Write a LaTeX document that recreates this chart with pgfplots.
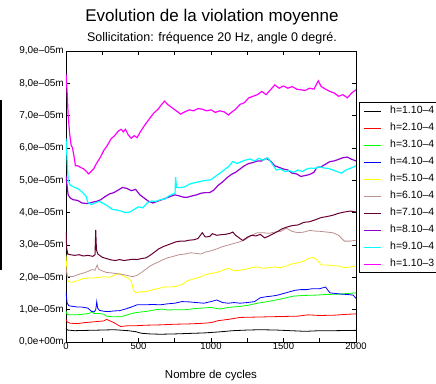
\documentclass[border=0pt]{standalone}
\usepackage{pgfplots}
\pgfplotsset{compat=1.18}
\usepackage{fontspec}
\setmainfont{Liberation Sans}
\definecolor{cMaroon}{HTML}{660033}
\definecolor{cRosy}{HTML}{BC8F8F}
\definecolor{cViolet}{HTML}{9400D3}
\definecolor{cRed}{HTML}{FF0000}
\definecolor{cGreen}{HTML}{00FF00}
\definecolor{cBlue}{HTML}{0000FF}
\definecolor{cYellow}{HTML}{FFFF00}
\definecolor{cCyan}{HTML}{00FFFF}
\definecolor{cMagenta}{HTML}{FF00FF}
\begin{document}
\begin{tikzpicture}
\useasboundingbox (-66pt,-41pt) rectangle (370pt,342pt);
\begin{axis}[
  at={(0pt,0pt)}, anchor=origin,
  scale only axis, width=290pt, height=291pt,
  xmin=0, xmax=2000, ymin=0, ymax=9,
  axis line style={line width=0.8pt},
  tick style={black, line width=0.6pt},
  tick align=inside, major tick length=4pt, minor tick length=4pt,
  xtick={0,500,1000,1500,2000},
  minor xtick={250,750,1250,1750},
  ytick={0,1,2,3,4,5,6,7,8,9},
  yticklabels={{0,0e+00m},{1,0e--05m},{2,0e--05m},{3,0e--05m},{4,0e--05m},{5,0e--05m},{6,0e--05m},{7,0e--05m},{8,0e--05m},{9,0e--05m}},
  /pgf/number format/assume math mode=true,
  /pgf/number format/1000 sep={},
  xticklabel style={font=\fontsize{9.5}{11}\selectfont, inner sep=1pt},
  yticklabel style={font=\fontsize{10}{12}\selectfont, inner sep=1pt, xshift=-1pt},
  xlabel={Nombre de cycles},
  xlabel style={font=\fontsize{11.5}{13}\selectfont, at={(rel axis cs:0.5,0)}, anchor=center, yshift=-34pt},
  legend cell align=left,
  legend style={at={(rel axis cs:1.0103,0.825)}, anchor=north west, draw=black, line width=0.8pt,
    font=\fontsize{10.5}{12}\selectfont, inner xsep=4pt, inner ysep=4pt, row sep=7.5pt,
    nodes={inner sep=0pt, text height=7.5pt, text depth=2pt},
    /tikz/every odd column/.append style={column sep=9pt},
    /tikz/every even column/.append style={column sep=20pt}},
  legend image code/.code={\draw[#1, line width=0.8pt] (0pt,0pt) -- (17pt,0pt);},
  every axis plot/.append style={line width=0.8pt},
]
% h=1.10-4 black
\addplot[black] coordinates {(0,0.42)(10,0.37)(60,0.35)(150,0.36)(250,0.37)(330,0.38)(430,0.35)(480,0.32)(520,0.27)(580,0.25)(650,0.24)(750,0.25)(880,0.27)(950,0.28)(1050,0.31)(1150,0.35)(1250,0.37)(1340,0.38)(1450,0.37)(1550,0.35)(1650,0.33)(1750,0.35)(1850,0.35)(2000,0.36)};
\addlegendentry{h=1.10--4}
% red
\addplot[cRed] coordinates {(0,0.7)(8,0.62)(30,0.58)(80,0.57)(130,0.6)(180,0.62)(230,0.64)(260,0.65)(280,0.7)(300,0.66)(330,0.6)(360,0.52)(378,0.48)(420,0.5)(470,0.5)(550,0.52)(650,0.53)(750,0.55)(850,0.56)(950,0.58)(1000,0.6)(1050,0.66)(1120,0.7)(1200,0.76)(1300,0.77)(1400,0.78)(1500,0.79)(1600,0.8)(1670,0.84)(1750,0.82)(1850,0.83)(1950,0.86)(2000,0.87)};
\addlegendentry{h=2.10--4}
% green
\addplot[cGreen] coordinates {(0,0.95)(8,0.85)(30,0.84)(60,0.84)(100,0.85)(140,0.87)(170,0.9)(180,0.95)(190,0.88)(230,0.88)(260,0.86)(280,0.8)(320,0.78)(380,0.78)(430,0.85)(470,0.9)(520,0.93)(560,0.95)(620,1.0)(660,1.02)(700,0.99)(760,1.0)(820,1.0)(880,1.03)(940,1.05)(1000,1.07)(1060,1.02)(1120,1.07)(1200,1.1)(1260,1.14)(1320,1.2)(1390,1.25)(1450,1.3)(1510,1.36)(1570,1.42)(1640,1.44)(1720,1.45)(1800,1.47)(1880,1.48)(1940,1.5)(2000,1.52)};
\addlegendentry{h=3.10--4}
% blue
\addplot[cBlue] coordinates {(0,1.55)(8,1.2)(20,1.12)(50,1.1)(80,1.08)(110,1.08)(150,1.05)(175,0.95)(195,0.93)(205,1.0)(212,1.25)(218,1.05)(230,0.98)(260,0.95)(290,0.94)(330,0.96)(370,0.97)(410,1.02)(450,1.08)(490,1.15)(540,1.15)(600,1.16)(650,1.15)(700,1.18)(750,1.2)(800,1.25)(850,1.24)(900,1.22)(950,1.2)(1000,1.25)(1040,1.3)(1080,1.22)(1120,1.2)(1160,1.22)(1200,1.2)(1250,1.22)(1300,1.25)(1340,1.37)(1380,1.4)(1420,1.42)(1460,1.45)(1500,1.5)(1540,1.55)(1580,1.6)(1620,1.62)(1660,1.62)(1700,1.65)(1750,1.65)(1790,1.7)(1820,1.52)(1860,1.5)(1900,1.48)(1940,1.47)(1980,1.45)(2000,1.35)};
\addlegendentry{h=4.10--4}
% yellow
\addplot[cYellow] coordinates {(0,2.7)(5,2.3)(12,1.9)(25,1.85)(50,1.85)(80,1.9)(110,1.95)(150,1.98)(190,1.98)(230,2.0)(260,2.02)(300,2.0)(340,2.08)(370,2.12)(400,2.02)(430,1.98)(450,1.88)(465,1.6)(480,1.52)(510,1.55)(540,1.55)(570,1.58)(600,1.62)(640,1.66)(680,1.7)(720,1.7)(760,1.72)(800,1.78)(840,1.9)(880,1.95)(920,2.0)(960,2.08)(1000,2.12)(1040,2.15)(1080,2.22)(1120,2.28)(1160,2.2)(1200,2.22)(1240,2.25)(1280,2.3)(1320,2.32)(1360,2.28)(1400,2.3)(1440,2.32)(1480,2.3)(1520,2.35)(1560,2.42)(1600,2.45)(1640,2.5)(1670,2.58)(1700,2.62)(1730,2.55)(1760,2.38)(1800,2.38)(1840,2.36)(1880,2.35)(1920,2.3)(1960,2.32)(2000,2.35)};
\addlegendentry{h=5.10--4}
% rosy brown
\addplot[cRosy] coordinates {(0,2.3)(8,2.05)(20,2.02)(50,2.03)(80,2.08)(110,2.12)(150,2.18)(180,2.24)(200,2.22)(215,2.38)(225,2.25)(250,2.2)(280,2.15)(310,2.14)(340,2.12)(370,2.1)(400,2.08)(430,2.05)(460,2.02)(490,2.06)(520,2.15)(550,2.25)(580,2.35)(610,2.42)(640,2.48)(670,2.55)(700,2.6)(740,2.65)(780,2.7)(820,2.72)(860,2.76)(900,2.74)(930,2.72)(960,2.78)(1000,2.82)(1040,2.88)(1080,2.95)(1120,3.0)(1160,3.05)(1200,3.1)(1240,3.18)(1280,3.3)(1320,3.38)(1360,3.38)(1400,3.36)(1440,3.4)(1480,3.42)(1520,3.52)(1560,3.42)(1600,3.38)(1640,3.4)(1680,3.45)(1720,3.43)(1760,3.42)(1800,3.4)(1840,3.38)(1880,3.3)(1920,3.12)(1960,3.12)(2000,3.15)};
\addlegendentry{h=6.10--4}
% maroon
\addplot[cMaroon, line width=1pt] coordinates {(0,3.4)(5,2.9)(12,2.72)(30,2.7)(60,2.68)(90,2.7)(120,2.66)(150,2.68)(185,2.65)(200,2.7)(205,3.47)(210,2.85)(220,2.72)(250,2.62)(280,2.58)(310,2.54)(340,2.52)(370,2.55)(400,2.52)(430,2.54)(460,2.56)(490,2.55)(520,2.58)(550,2.6)(580,2.68)(610,2.78)(640,2.88)(670,2.95)(700,3.0)(730,3.05)(760,3.1)(790,3.12)(820,3.12)(850,3.15)(880,3.16)(910,3.2)(940,3.38)(960,3.25)(990,3.26)(1010,3.35)(1040,3.3)(1070,3.32)(1100,3.33)(1130,3.36)(1150,3.4)(1170,3.3)(1200,3.2)(1220,3.14)(1250,3.24)(1280,3.3)(1310,3.28)(1340,3.33)(1370,3.22)(1400,3.28)(1430,3.35)(1460,3.42)(1490,3.5)(1520,3.55)(1560,3.6)(1600,3.62)(1640,3.7)(1680,3.72)(1720,3.78)(1760,3.85)(1800,3.88)(1840,3.92)(1880,3.98)(1920,4.02)(1960,4.05)(2000,4.02)};
\addlegendentry{h=7.10--4}
% violet
\addplot[cViolet, line width=1.2pt] coordinates {(0,5.15)(8,4.8)(15,4.55)(30,4.45)(50,4.4)(80,4.38)(110,4.3)(150,4.28)(180,4.32)(210,4.35)(240,4.4)(270,4.5)(300,4.58)(330,4.62)(360,4.7)(390,4.78)(420,4.75)(450,4.68)(480,4.72)(510,4.55)(540,4.45)(570,4.35)(600,4.3)(630,4.35)(660,4.4)(690,4.45)(720,4.5)(750,4.55)(780,4.52)(810,4.48)(840,4.48)(870,4.52)(900,4.55)(930,4.6)(960,4.62)(990,4.62)(1020,4.7)(1050,4.85)(1080,4.95)(1110,5.08)(1140,5.18)(1170,5.25)(1200,5.35)(1230,5.45)(1260,5.52)(1290,5.55)(1320,5.6)(1350,5.6)(1380,5.68)(1410,5.6)(1440,5.45)(1470,5.4)(1500,5.35)(1530,5.32)(1560,5.22)(1590,5.2)(1620,5.12)(1650,5.15)(1680,5.18)(1710,5.25)(1730,5.4)(1760,5.42)(1790,5.5)(1820,5.58)(1850,5.6)(1880,5.65)(1910,5.7)(1940,5.72)(1970,5.65)(2000,5.6)};
\addlegendentry{h=8.10--4}
% cyan
\addplot[cCyan, line width=1.2pt] coordinates {(0,6.3)(8,5.6)(15,5.0)(30,4.85)(60,4.78)(90,4.72)(120,4.6)(140,4.5)(150,4.32)(175,4.25)(200,4.3)(230,4.35)(260,4.28)(290,4.2)(320,4.1)(350,4.08)(380,4.05)(410,4.0)(440,4.02)(470,4.1)(500,4.18)(530,4.15)(560,4.3)(590,4.36)(620,4.35)(650,4.4)(680,4.42)(710,4.52)(740,4.58)(752,4.6)(756,5.1)(762,4.78)(790,4.78)(820,4.8)(850,4.88)(880,4.92)(910,4.95)(940,4.98)(970,5.0)(1000,5.02)(1030,5.12)(1060,5.22)(1090,5.32)(1120,5.42)(1150,5.58)(1180,5.52)(1210,5.58)(1240,5.63)(1270,5.66)(1300,5.6)(1330,5.68)(1360,5.62)(1390,5.7)(1420,5.52)(1450,5.32)(1480,5.35)(1510,5.27)(1540,5.3)(1570,5.25)(1600,5.32)(1630,5.27)(1660,5.35)(1690,5.38)(1720,5.37)(1750,5.42)(1780,5.38)(1810,5.37)(1840,5.32)(1870,5.27)(1900,5.22)(1930,5.32)(1960,5.37)(2000,5.45)};
\addlegendentry{h=9.10--4}
% magenta
\addplot[cMagenta, line width=1.2pt] coordinates {(0,8.3)(8,7.7)(15,7.0)(25,6.45)(35,6.1)(45,6.0)(55,5.75)(65,5.45)(80,5.45)(100,5.4)(120,5.36)(140,5.28)(155,5.2)(170,5.26)(190,5.35)(210,5.52)(235,5.7)(260,5.92)(285,6.08)(310,6.28)(335,6.38)(360,6.52)(380,6.58)(395,6.5)(410,6.58)(430,6.4)(450,6.3)(470,6.38)(490,6.32)(515,6.52)(545,6.72)(575,6.9)(605,7.08)(635,7.2)(660,7.35)(680,7.45)(700,7.35)(730,7.25)(760,7.15)(790,7.05)(820,7.12)(850,7.18)(880,7.15)(910,7.22)(940,7.2)(970,7.15)(1000,7.18)(1030,7.1)(1060,7.15)(1090,7.12)(1120,7.02)(1140,7.1)(1170,7.2)(1200,7.35)(1230,7.4)(1260,7.55)(1290,7.6)(1320,7.65)(1350,7.75)(1380,7.65)(1410,7.8)(1440,7.95)(1470,7.85)(1500,7.92)(1530,7.85)(1560,7.9)(1590,7.82)(1620,7.8)(1650,7.78)(1680,7.85)(1710,7.82)(1740,8.08)(1760,7.9)(1790,7.82)(1820,7.75)(1850,7.7)(1880,7.6)(1910,7.65)(1940,7.55)(1970,7.7)(2000,7.8)};
\addlegendentry{h=1.10--3}
\end{axis}
\node[font=\fontsize{17}{20}\selectfont] at (146pt,325pt) {Evolution de la violation moyenne};
\node[font=\fontsize{12.5}{15}\selectfont] at (146pt,304pt) {Sollicitation: fréquence 20 Hz, angle 0 degré.};
\draw[line width=1.5pt] (-65pt,72pt) -- (-65pt,242pt);
\end{tikzpicture}
\end{document}
